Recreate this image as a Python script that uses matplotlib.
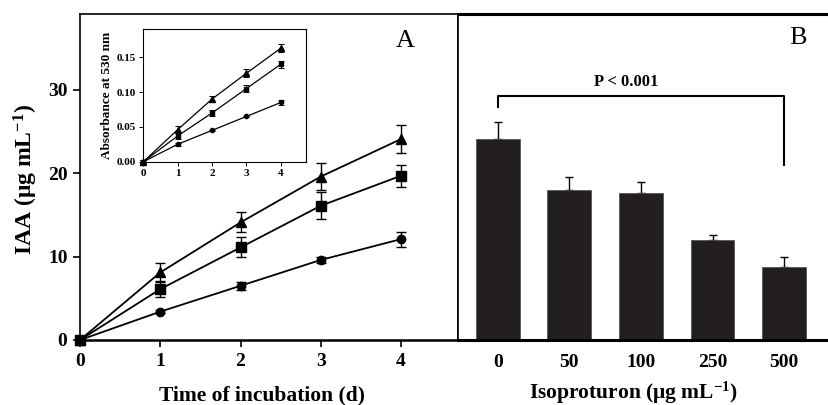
import numpy as np
import matplotlib
matplotlib.use("Agg")
import matplotlib.pyplot as plt

plt.rcParams['font.family'] = ['Liberation Serif', 'DejaVu Serif']
plt.rcParams['mathtext.fontset'] = 'custom'
plt.rcParams['mathtext.rm'] = 'Liberation Serif:bold'
plt.rcParams['mathtext.it'] = 'Liberation Serif:bold'
plt.rcParams['mathtext.bf'] = 'Liberation Serif:bold'

# panel A: IAA over time
days = [0, 1, 2, 3, 4]
iaa_tri = [0, 8.1, 14.1, 19.6, 24.1]
iaa_tri_err = [0.3, 1.1, 1.2, 1.6, 1.7]
iaa_sq = [0, 6.1, 11.1, 16.1, 19.7]
iaa_sq_err = [0.3, 1.0, 1.2, 1.6, 1.3]
iaa_ci = [0, 3.4, 6.5, 9.6, 12.1]
iaa_ci_err = [0.2, 0.2, 0.5, 0.4, 0.9]

# inset: absorbance at 530 nm
abs_tri = [0, 0.046, 0.090, 0.127, 0.163]
abs_tri_err = [0.002, 0.005, 0.004, 0.006, 0.006]
abs_sq = [0, 0.037, 0.070, 0.105, 0.140]
abs_sq_err = [0.002, 0.004, 0.004, 0.005, 0.005]
abs_ci = [0, 0.025, 0.045, 0.065, 0.085]
abs_ci_err = [0.002, 0.002, 0.001, 0.001, 0.003]

# panel B: IAA vs isoproturon dose
doses = ['0', '50', '100', '250', '500']
iaa_dose = [24.1, 18.0, 17.6, 12.0, 8.8]
iaa_dose_err = [2.0, 1.5, 1.3, 0.6, 1.1]

W, H = 829, 405
fig = plt.figure(figsize=(W / 100, H / 100), dpi=100)

bot = (H - 340) / H
top = (H - 14) / H
mid = 458 / W
axA = fig.add_axes([80 / W, bot, mid - 80 / W, top - bot])
axB = fig.add_axes([mid, bot, 1.0 - mid, top - bot])
axI = fig.add_axes([143.3 / W, (H - 161.7) / H, (306 - 143.3) / W, (161.7 - 29.3) / H])

bold = dict(fontweight='bold')

# ---- panel A
series = [(iaa_tri, iaa_tri_err, '^', 7), (iaa_sq, iaa_sq_err, 's', 6.5), (iaa_ci, iaa_ci_err, 'o', 6)]
for vals, err, mk, ms in series:
    axA.errorbar(days, vals, yerr=err, color='black', marker=mk, markersize=ms,
                 lw=1.3, elinewidth=1.0, capsize=3.5, capthick=1.0, clip_on=False, zorder=3)
axA.set_xlim(0, 4.71)
axA.set_ylim(0, 39.1)
axA.set_xticks(days)
axA.set_yticks([0, 10, 20, 30])
axA.tick_params(direction='out', length=5, width=1.2, labelsize=14, pad=4)
for lab in axA.get_xticklabels() + axA.get_yticklabels():
    lab.set_fontweight('bold')
for s in axA.spines.values():
    s.set_linewidth(1.2)
axA.spines['bottom'].set_linewidth(1.8)
axA.text(4.05, 35.9, 'A', fontsize=19, ha='center', va='center')

# axis titles placed in figure pixels
fig.text(262 / W, (H - 400) / H, 'Time of incubation (d)', fontsize=15.5,
         ha='center', va='baseline', **bold)
fig.text(26 / W, (H - 180) / H, r'IAA (μg mL$^{-1}$)', fontsize=17, rotation=90,
         ha='center', va='center', **bold)
fig.text(634 / W, (H - 399) / H, r'Isoproturon (μg mL$^{-1}$)', fontsize=15.5,
         ha='center', va='baseline', **bold)

# ---- inset
for vals, err, mk, ms in [(abs_tri, abs_tri_err, '^', 4), (abs_sq, abs_sq_err, 's', 3.5), (abs_ci, abs_ci_err, 'o', 3)]:
    axI.errorbar(days, vals, yerr=err, color='black', marker=mk, markersize=ms,
                 lw=0.9, elinewidth=0.7, capsize=2, capthick=0.7, clip_on=False, zorder=3)
axI.set_xlim(0, 4.73)
axI.set_ylim(0, 0.19)
axI.set_xticks(days)
axI.set_yticks([0, 0.05, 0.10, 0.15])
axI.set_yticklabels(['0.00', '0.05', '0.10', '0.15'])
axI.tick_params(direction='out', length=3, width=0.7, labelsize=8, pad=2)
for lab in axI.get_xticklabels() + axI.get_yticklabels():
    lab.set_fontweight('bold')
for s in axI.spines.values():
    s.set_linewidth(0.8)
axI.set_ylabel('Absorbance at 530 nm', fontsize=9.5, labelpad=3, **bold)

# ---- panel B
xpos = np.arange(len(doses))
axB.bar(xpos, iaa_dose, width=0.61, color='#231f20', edgecolor='#555555', linewidth=0.6, zorder=2)
axB.errorbar(xpos, iaa_dose, yerr=[np.zeros(len(doses)), iaa_dose_err], fmt='none',
             ecolor='black', elinewidth=1.0, capsize=3, capthick=1.0, zorder=1)
axB.set_xlim(-0.555, 4.627)
axB.set_ylim(0, 39.1)
axB.set_xticks(xpos)
axB.set_xticklabels(doses)
axB.set_yticks([])
axB.tick_params(axis='x', length=0, labelsize=14, pad=10)
for lab in axB.get_xticklabels():
    lab.set_fontweight('bold')
axB.spines['right'].set_visible(False)
axB.spines['left'].set_linewidth(1.2)
axB.spines['top'].set_linewidth(2.2)
axB.spines['bottom'].set_linewidth(2.2)
axB.text(4.2, 36.2, 'B', fontsize=19, ha='center', va='center')

# significance bracket
axB.plot([0, 0, 4, 4], [28.0, 29.3, 29.3, 21.0], color='black', lw=1.5)
axB.text(1.8, 31.0, 'P < 0.001', fontsize=12, ha='center', va='center', **bold)

fig.savefig('out.png', dpi=100)
